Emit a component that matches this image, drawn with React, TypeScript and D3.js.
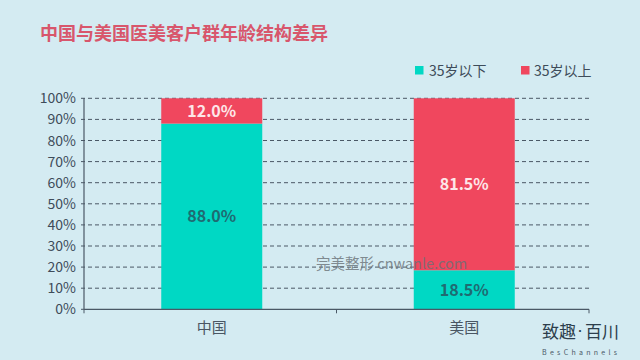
import React from "react";
import * as d3 from "d3";

const categories = ["中国", "美国"];
const under35 = [88.0, 18.5];
const over35 = [12.0, 81.5];
const seriesNames = ["35岁以下", "35岁以上"];
const yTicks = [0, 10, 20, 30, 40, 50, 60, 70, 80, 90, 100];

const W = 640, H = 360;
const left = 84, right = 589, top = 98.3, bottom = 309.3;
const TEAL = "#00d8c4";
const RED = "#f0475e";
const FONT = "'Microsoft YaHei','Noto Sans CJK SC','Noto Sans',sans-serif";

export default function App() {
  const y = d3.scaleLinear().domain([0, 100]).range([bottom, top]);
  const x = d3.scaleBand<string>().domain(categories).range([left, right]).paddingInner(0).paddingOuter(0);
  const barW = x.bandwidth() * 0.4;
  const cx = (c: string) => (x(c) as number) + x.bandwidth() / 2 + 1.5;

  return (
    <svg width={W} height={H} style={{ position: "absolute", left: 0, top: 0, display: "block" }} fontFamily={FONT}>
      <rect x={0} y={0} width={W} height={H} fill="#d4ebf2" />
      <text x={40} y={40} fontSize={18} fontWeight="bold" fill="#d8566c">中国与美国医美客户群年龄结构差异</text>

      {/* legend */}
      <rect x={415} y={66} width={8.5} height={8.5} fill={TEAL} />
      <text x={429} y={75.5} fontSize={14} fill="#3e4c5a">{seriesNames[0]}</text>
      <rect x={521} y={66} width={8.5} height={8.5} fill={RED} />
      <text x={534} y={75.5} fontSize={14} fill="#3e4c5a">{seriesNames[1]}</text>

      {/* grid & y axis */}
      {yTicks.map((t) => (
        <g key={t}>
          {t > 0 && (
            <line x1={left - 3} x2={right} y1={y(t)} y2={y(t)} stroke="#4a5866" strokeWidth={1} strokeDasharray="4,3" />
          )}
          {t === 0 && <line x1={left - 3} x2={left} y1={y(t)} y2={y(t)} stroke="#4a5866" />}
          <text x={76} y={y(t) + 5} fontSize={14} fill="#3e4c5a" textAnchor="end">{t}%</text>
        </g>
      ))}

      {/* bars */}
      {categories.map((c, i) => {
        const x0 = cx(c) - barW / 2;
        const yMid = y(under35[i]);
        return (
          <g key={c}>
            <rect x={x0} y={yMid} width={barW} height={bottom - yMid} fill={TEAL} />
            <rect x={x0} y={y(100)} width={barW} height={yMid - y(100)} fill={RED} />
            <text x={cx(c)} y={(yMid + bottom) / 2 + 6} fontSize={16} fontWeight="bold" fill="#1f6b72" textAnchor="middle">
              {under35[i].toFixed(1)}%
            </text>
            <text x={cx(c)} y={(yMid + y(100)) / 2 + 6} fontSize={16} fontWeight="bold" fill="#fde6e9" textAnchor="middle">
              {over35[i].toFixed(1)}%
            </text>
          </g>
        );
      })}

      {/* axes lines */}
      <line x1={left} x2={left} y1={top} y2={bottom} stroke="#4a5866" strokeWidth={1.2} />
      <line x1={left} x2={right} y1={bottom} y2={bottom} stroke="#4a5866" strokeWidth={1.2} />
      {[left, left + x.step(), right].map((tx, i) => (
        <line key={i} x1={tx} x2={tx} y1={bottom} y2={bottom + 4} stroke="#4a5866" />
      ))}
      {categories.map((c) => (
        <text key={c} x={cx(c)} y={333} fontSize={15} fill="#4a5663" textAnchor="middle">{c}</text>
      ))}

      {/* watermark */}
      <text x={316} y={269} fontSize={14.5} fill="#6a7278" opacity={0.8}>完美整形 cnwanle.com</text>

      {/* logo */}
      <text x={542} y={338} fontSize={17} fill="#2c3e4c">
        <tspan>致趣</tspan>
        <tspan dx={-1} fontSize={10} dy={-3}>·</tspan>
        <tspan dx={0} dy={3}>百川</tspan>
      </text>
      <text x={542} y={355} fontSize={7} fill="#4a5866" letterSpacing={3.3}>BesChannels</text>
    </svg>
  );
}
